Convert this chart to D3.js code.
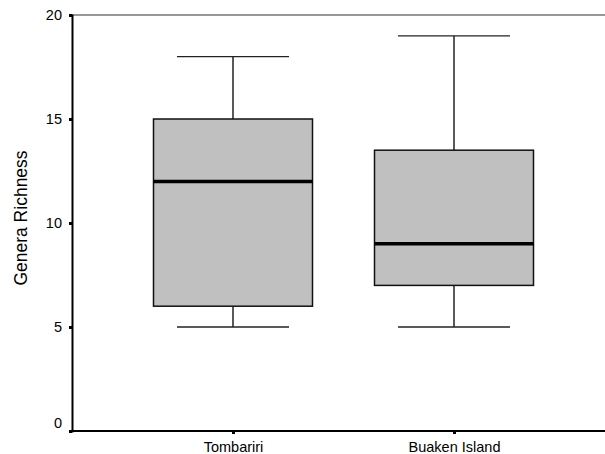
<!DOCTYPE html>
<html>
<head>
<meta charset="utf-8">
<script src="https://cdn.jsdelivr.net/npm/d3@7"></script>
<style>
  body { margin: 0; background: #fff; }
  text { font-family: Arial, "Liberation Sans", sans-serif; fill: #000; }
</style>
</head>
<body>
<svg width="605" height="454"></svg>
<script>
var categories = ["Tombariri", "Buaken Island"];
var whiskerLow = [5, 5];
var q1 = [6, 7];
var median = [12, 9];
var q3 = [15, 13.5];
var whiskerHigh = [18, 19];
var yTicks = [0, 5, 10, 15, 20];
var ytitle = "Genera Richness";

var svg = d3.select("svg");

var x = d3.scalePoint().domain(categories).range([72, 615]).padding(0.7285),
    y = d3.scaleLinear().domain([0, 20]).range([431, 15]);

var boxW = 159, capW = 112;

// top frame line
svg.append("line")
   .attr("x1", 72).attr("x2", 605)
   .attr("y1", y(20)).attr("y2", y(20))
   .attr("stroke", "#333").attr("stroke-width", 1);

// y axis
var yAxis = svg.append("g")
   .attr("transform", "translate(72,0)")
   .call(d3.axisLeft(y).tickValues(yTicks).tickSize(3).tickPadding(7));
yAxis.select(".domain").attr("stroke", "#000").attr("stroke-width", 2);
yAxis.selectAll(".tick line").attr("stroke", "#000").attr("stroke-width", 3);
yAxis.selectAll(".tick text").style("font-size", "14.5px").attr("font-family", null)
   .attr("y", function(d) { return d === 0 ? -8 : 0; });

// x axis
var xAxis = svg.append("g")
   .attr("transform", "translate(0,431)")
   .call(d3.axisBottom(x).tickSize(3).tickPadding(8));
xAxis.select(".domain").attr("d", "M72,0H605").attr("stroke", "#000").attr("stroke-width", 2);
xAxis.selectAll(".tick line").attr("stroke", "#000").attr("stroke-width", 3);
xAxis.selectAll(".tick text").style("font-size", "14.5px").attr("font-family", null);

svg.append("text")
   .attr("transform", "translate(27,218) rotate(-90)")
   .attr("text-anchor", "middle")
   .style("font-size", "17.5px")
   .text(ytitle);

var data = categories.map(function(c, i) {
    return {cat: c, lo: whiskerLow[i], q1: q1[i], med: median[i], q3: q3[i], hi: whiskerHigh[i]};
});

var g = svg.selectAll(".box").data(data).enter().append("g").attr("class", "box");

// whisker stems
g.append("line")
 .attr("x1", function(d) { return x(d.cat); })
 .attr("x2", function(d) { return x(d.cat); })
 .attr("y1", function(d) { return y(d.hi); })
 .attr("y2", function(d) { return y(d.q3); })
 .attr("stroke", "#000").attr("stroke-width", 1.3);
g.append("line")
 .attr("x1", function(d) { return x(d.cat); })
 .attr("x2", function(d) { return x(d.cat); })
 .attr("y1", function(d) { return y(d.q1); })
 .attr("y2", function(d) { return y(d.lo); })
 .attr("stroke", "#000").attr("stroke-width", 1.3);

// caps
["hi", "lo"].forEach(function(k) {
    g.append("line")
     .attr("x1", function(d) { return x(d.cat) - capW / 2; })
     .attr("x2", function(d) { return x(d.cat) + capW / 2; })
     .attr("y1", function(d) { return y(d[k]); })
     .attr("y2", function(d) { return y(d[k]); })
     .attr("stroke", "#222").attr("stroke-width", 1.3);
});

// boxes
g.append("rect")
 .attr("x", function(d) { return x(d.cat) - boxW / 2; })
 .attr("width", boxW)
 .attr("y", function(d) { return y(d.q3); })
 .attr("height", function(d) { return y(d.q1) - y(d.q3); })
 .attr("fill", "#c0c0c0")
 .attr("stroke", "#111").attr("stroke-width", 1.5);

// medians
g.append("line")
 .attr("x1", function(d) { return x(d.cat) - boxW / 2; })
 .attr("x2", function(d) { return x(d.cat) + boxW / 2; })
 .attr("y1", function(d) { return y(d.med); })
 .attr("y2", function(d) { return y(d.med); })
 .attr("stroke", "#000").attr("stroke-width", 3.5);
</script>
</body>
</html>
